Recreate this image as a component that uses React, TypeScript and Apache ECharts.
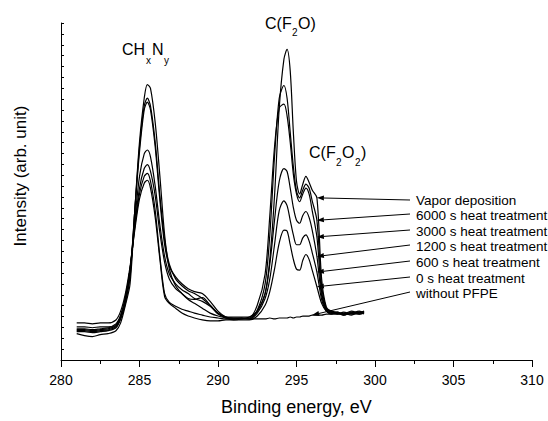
import React, { useEffect, useRef } from "react";
import * as echarts from "echarts";

// Binding energy grid (eV)
const energy = [
  281.0, 281.5, 282.0, 282.5, 283.0, 283.5, 283.8, 284.1, 284.4, 284.7,
  285.0, 285.3, 285.5, 285.7, 286.0, 286.3, 286.6, 286.9, 287.3, 287.7,
  288.1, 288.5, 289.0, 289.5, 290.0, 290.5, 291.0, 291.5, 292.0, 292.5,
  293.0, 293.3, 293.6, 293.9, 294.2, 294.4, 294.6, 294.8, 295.0, 295.2,
  295.4, 295.6, 295.8, 296.0, 296.3, 296.6, 296.9, 297.2, 297.6, 298.0,
  298.5, 299.0, 299.3,
];

// Intensities (arb. unit)
const vaporDeposition = [
  38, 38, 37, 38, 38, 41, 50, 68, 96, 133,
  165, 181, 184, 176, 146, 103, 65, 58, 53, 48,
  45, 43, 41, 40, 40, 41, 41, 42, 44, 50,
  68, 103, 168, 258, 308, 318, 296, 233, 183, 170,
  180, 188, 182, 174, 166, 83, 54, 50, 49, 47,
  50, 48, 50,
];
const heat6000 = [
  34, 34, 33, 34, 34, 37, 46, 64, 93, 136,
  170, 188, 191, 183, 153, 106, 68, 59, 55, 52,
  50, 48, 46, 44, 43, 42, 42, 43, 43, 51,
  78, 128, 208, 268, 281, 268, 233, 198, 173, 166,
  174, 180, 176, 163, 143, 76, 53, 49, 48, 46,
  48, 47, 49,
];
const heat3000 = [
  32, 32, 31, 32, 33, 36, 45, 63, 93, 138,
  176, 196, 200, 193, 168, 130, 100, 83, 73, 68,
  63, 62, 64, 56, 47, 44, 44, 44, 44, 56,
  88, 148, 218, 258, 262, 250, 223, 190, 170, 162,
  170, 176, 170, 153, 126, 70, 52, 49, 47, 49,
  47, 48, 50,
];
const heat1200 = [
  31, 31, 30, 31, 32, 35, 43, 62, 93, 143,
  188, 211, 215, 208, 178, 138, 106, 88, 78, 72,
  68, 63, 60, 55, 48, 44, 43, 43, 42, 50,
  68, 98, 143, 183, 196, 193, 176, 156, 143, 140,
  148, 152, 146, 133, 106, 66, 51, 48, 49, 47,
  48, 50, 48,
];
const heat600 = [
  30, 30, 29, 30, 31, 34, 43, 60, 88, 153,
  213, 256, 264, 256, 218, 163, 118, 96, 85, 78,
  73, 70, 68, 60, 50, 44, 43, 43, 42, 48,
  63, 83, 118, 153, 163, 158, 143, 128, 118, 118,
  125, 128, 122, 110, 90, 62, 50, 48, 47, 48,
  46, 49, 47,
];
const heat0 = [
  29, 29, 28, 29, 30, 33, 42, 58, 85, 153,
  218, 260, 268, 260, 223, 168, 123, 98, 83, 76,
  71, 68, 63, 56, 48, 43, 41, 41, 41, 45,
  56, 70, 93, 120, 133, 132, 118, 103, 93, 92,
  102, 108, 103, 92, 75, 58, 50, 47, 48, 46,
  49, 47, 48,
];
const withoutPFPE = [
  27, 25, 24, 26, 27, 30, 38, 56, 78, 153,
  223, 268, 282, 278, 243, 188, 128, 93, 76, 68,
  62, 58, 53, 48, 45, 43, 42, 42, 42, 42,
  42, 43, 42, 43, 43, 43, 44, 43, 44, 44,
  45, 45, 45, 46, 46, 46, 47, 47, 48, 47,
  48, 49, 49,
];

const seriesNames = [
  "Vapor deposition",
  "6000 s heat treatment",
  "3000 s heat treatment",
  "1200 s heat treatment",
  "600 s heat treatment",
  "0 s heat treatment",
  "without PFPE",
];
// energy at which each annotation arrow touches its curve
const arrowEnergy = [296.3, 296.3, 296.3, 296.3, 296.3, 296.3, 296.0];

const FONT = "'Liberation Sans', Arial, sans-serif";

export default function App() {
  const ref = useRef<HTMLDivElement>(null);
  useEffect(() => {
    const chart = echarts.init(ref.current!, null, { renderer: "svg" });
    const seriesData = [
      vaporDeposition, heat6000, heat3000, heat1200, heat600, heat0, withoutPFPE,
    ];
    chart.setOption({
      animation: false,
      backgroundColor: "#ffffff",
      grid: { left: 61, top: 23, width: 471, height: 345 },
      xAxis: {
        type: "value",
        min: 280,
        max: 310,
        interval: 5,
        name: "Binding energy, eV",
        nameLocation: "middle",
        nameGap: 38,
        nameTextStyle: { fontSize: 18, color: "#000", fontFamily: FONT },
        axisLine: { show: true, onZero: false, lineStyle: { color: "#000", width: 1 } },
        axisTick: { show: true, inside: false, length: 7, lineStyle: { color: "#000" } },
        minorTick: { show: true, splitNumber: 2, length: 4, lineStyle: { color: "#000" } },
        axisLabel: { fontSize: 14, color: "#000", margin: 13, fontFamily: FONT },
        splitLine: { show: false },
      },
      yAxis: {
        type: "value",
        min: 0,
        max: 345,
        interval: 11.125,
        axisLine: { show: true, onZero: false, lineStyle: { color: "#000", width: 1 } },
        axisTick: { show: true, inside: true, length: 3, lineStyle: { color: "#000" } },
        axisLabel: { show: false },
        splitLine: { show: false },
      },
      series: seriesData.map((d, i) => ({
        type: "line",
        name: seriesNames[i],
        data: energy.map((e, j) => [e, d[j]]),
        showSymbol: false,
        smooth: 0.3,
        lineStyle: { color: "#000", width: 1.2 },
        itemStyle: { color: "#000" },
        z: 2,
      })),
    });

    const graphics: any[] = [];
    const txt = (text: string, x: number, y: number, size: number, extra: any = {}) => ({
      type: "text",
      x,
      y,
      style: {
        text,
        fontSize: size,
        fontFamily: FONT,
        fill: "#000",
        textAlign: "left",
        textVerticalAlign: "middle",
        ...extra,
      },
    });
    // peak labels
    graphics.push(txt("CH", 122, 49, 16));
    graphics.push(txt("x", 146, 60, 10));
    graphics.push(txt("N", 152, 49, 16));
    graphics.push(txt("y", 164, 60, 10));

    graphics.push(txt("C(F", 265, 23, 16));
    graphics.push(txt("2", 292, 32, 10));
    graphics.push(txt("O)", 298, 23, 16));

    graphics.push(txt("C(F", 309, 152, 16));
    graphics.push(txt("2", 336, 162, 10));
    graphics.push(txt("O", 342, 152, 16));
    graphics.push(txt("2", 355, 162, 10));
    graphics.push(txt(")", 361, 152, 16));

    // y axis title
    graphics.push({
      type: "text",
      x: 20,
      y: 176,
      rotation: Math.PI / 2,
      style: {
        text: "Intensity (arb. unit)",
        fontSize: 17,
        fontFamily: FONT,
        fill: "#000",
        textAlign: "center",
        textVerticalAlign: "middle",
      },
    });

    // annotation labels and arrows
    const labelY = [200, 215, 231, 246, 262, 278, 293];
    const tailY = [200, 214, 230, 245, 261, 277, 292];
    seriesNames.forEach((name, i) => {
      graphics.push(txt(name, 416, labelY[i], 13.5));
      const k = energy.indexOf(arrowEnergy[i]);
      const [hx, hy] = chart.convertToPixel({ gridIndex: 0 }, [energy[k], seriesData[i][k]]) as number[];
      const tx = 410;
      const ty = tailY[i];
      const dx = hx - tx;
      const dy = hy - ty;
      const len = Math.sqrt(dx * dx + dy * dy);
      const ux = dx / len;
      const uy = dy / len;
      const bx = hx - ux * 7;
      const by = hy - uy * 7;
      const px = -uy * 2.5;
      const py = ux * 2.5;
      graphics.push({
        type: "line",
        shape: { x1: tx, y1: ty, x2: bx, y2: by },
        style: { stroke: "#000", lineWidth: 1 },
      });
      graphics.push({
        type: "polygon",
        shape: { points: [[hx, hy], [bx + px, by + py], [bx - px, by - py]] },
        style: { fill: "#000" },
      });
    });

    chart.setOption({ graphic: graphics });
    return () => chart.dispose();
  }, []);
  return (
    <div
      ref={ref}
      style={{ position: "absolute", left: 0, top: 0, width: 548, height: 421 }}
    />
  );
}
